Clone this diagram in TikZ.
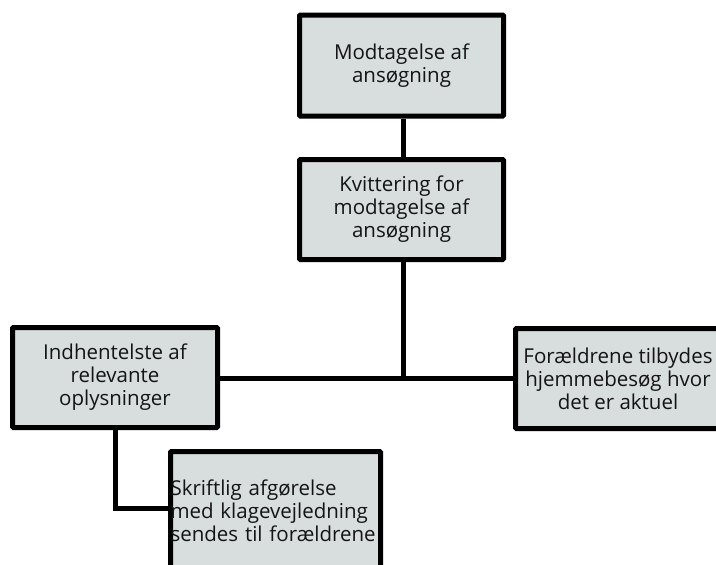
\documentclass[tikz,border=0pt]{standalone}
\usepackage{fontspec}
\setmainfont{Open Sans}
\definecolor{boxfill}{RGB}{216,221,221}
\definecolor{ink}{RGB}{20,20,20}
\tikzset{
  box/.style={draw=black, line width=5pt, fill=boxfill, rectangle, rounded corners=1pt,
    align=center, inner sep=0pt, font=\fontsize{20.5}{23}\selectfont, text=ink},
  conn/.style={draw=black, line width=5pt}
}
\begin{document}
\begin{tikzpicture}[x=1pt,y=-1pt]
\useasboundingbox (0,0) rectangle (716,565);
\clip (0,0) rectangle (716,565);
\node[box, minimum width=204pt, minimum height=101pt] (b1) at (401.5,65.5) {Modtagelse af\\ansøgning};
\node[box, minimum width=204pt, minimum height=100pt] (b2) at (401.5,209.5) {Kvittering for\\modtagelse af\\ansøgning};
\node[box, minimum width=205pt, minimum height=100pt] (b3) at (115,377.5) {Indhentelste af\\relevante\\oplysninger};
\node[box, minimum width=205pt, minimum height=100pt] (b4) at (618,378.5) {Forældrene tilbydes\\hjemmebesøg hvor\\det er aktuel};
\node[box, minimum width=210pt, minimum height=119pt, text width=210pt, align=left] (b5) at (275.5,511) {Skriftlig afgørelse\\med klagevejledning\\sendes til forældrene};
\coordinate (j) at (403,378);
\draw[conn] (b1.south -| j) -- (b2.north -| j);
\draw[conn] (b2.south -| j) -- (j);
\draw[conn] (b3.east |- j) -- (j) -- (b4.west |- j);
\draw[conn] (b3.south) -- (b3.south |- 0,508) -- (b5.west |- 0,508);
\end{tikzpicture}
\end{document}
